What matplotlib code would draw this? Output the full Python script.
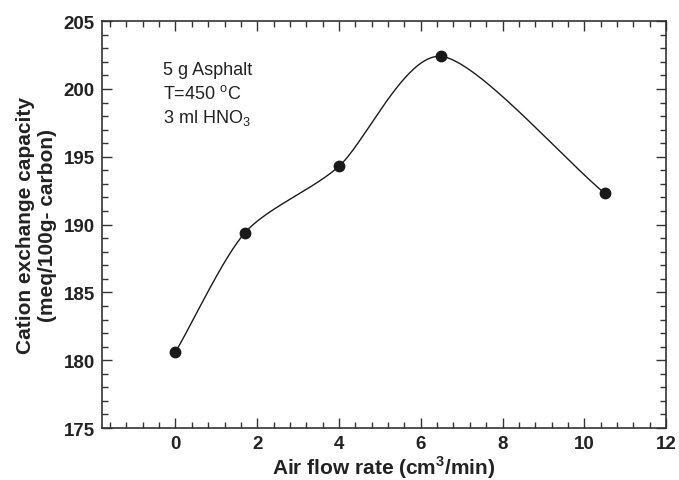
import numpy as np
import matplotlib.pyplot as plt
from matplotlib.ticker import MultipleLocator

plt.rcParams['font.family'] = ['Liberation Sans', 'DejaVu Sans']

# data
air_flow = [0.0, 1.7, 4.0, 6.5, 10.5]
cec = [180.6, 189.4, 194.3, 202.4, 192.3]

notes = ['5 g Asphalt', r'T=450 $^{\mathregular{o}}$C', r'3 ml HNO$_{\mathregular{3}}$']


def smooth_curve(P, tension=0.4, m=80):
    # uniform catmull-rom style curve through the points (in display space)
    P = np.asarray(P, float)
    ext = np.vstack([2 * P[0] - P[1], P, 2 * P[-1] - P[-2]])
    T = tension * (ext[2:] - ext[:-2])
    pts = []
    for i in range(len(P) - 1):
        t = np.linspace(0, 1, m)[:, None]
        pts.append((2 * t**3 - 3 * t**2 + 1) * P[i] + (t**3 - 2 * t**2 + t) * T[i]
                   + (-2 * t**3 + 3 * t**2) * P[i + 1] + (t**3 - t**2) * T[i + 1])
    return np.vstack(pts)


fig = plt.figure(figsize=(6.79, 4.81), dpi=100)
ax = fig.add_axes([0.150, 0.108, 0.831, 0.846])
ax.set_xlim(-1.8, 12)
ax.set_ylim(175, 205)

# build the curve in screen coordinates so it looks like the drawn original
disp = ax.transData.transform(np.column_stack([air_flow, cec]))
curve = ax.transData.inverted().transform(smooth_curve(disp))
ax.plot(curve[:, 0], curve[:, 1], color='#1a1a1a', lw=1.0)
ax.plot(air_flow, cec, 'o', color='#1a1a1a', ms=7.5)

ax.xaxis.set_major_locator(MultipleLocator(2))
ax.xaxis.set_minor_locator(MultipleLocator(0.4))
ax.yaxis.set_major_locator(MultipleLocator(5))
ax.yaxis.set_minor_locator(MultipleLocator(1))
ax.tick_params(which='both', direction='in', top=True, right=True, width=1.0, color='#333333')
ax.tick_params(which='major', length=7, labelsize=13.5, pad=5)
ax.tick_params(which='minor', length=4)
for lab in ax.get_xticklabels() + ax.get_yticklabels():
    lab.set_fontweight('bold')
    lab.set_color('#222222')
for s in ax.spines.values():
    s.set_linewidth(1.2)
    s.set_color('#333333')

ax.set_xlabel(r'Air flow rate (cm$^{\mathregular{3}}$/min)', fontsize=15, fontweight='bold', color='#222222', labelpad=1)
ax.set_ylabel('Cation exchange capacity\n(meq/100g- carbon)', fontsize=15, fontweight='bold', color='#222222',
              labelpad=5, linespacing=1.15)

for k, t in enumerate(notes):
    ax.text(0.108, 0.882 - k * 0.059, t, transform=ax.transAxes, fontsize=13, color='#222222', va='center')

fig.savefig('out.png', dpi=100)
